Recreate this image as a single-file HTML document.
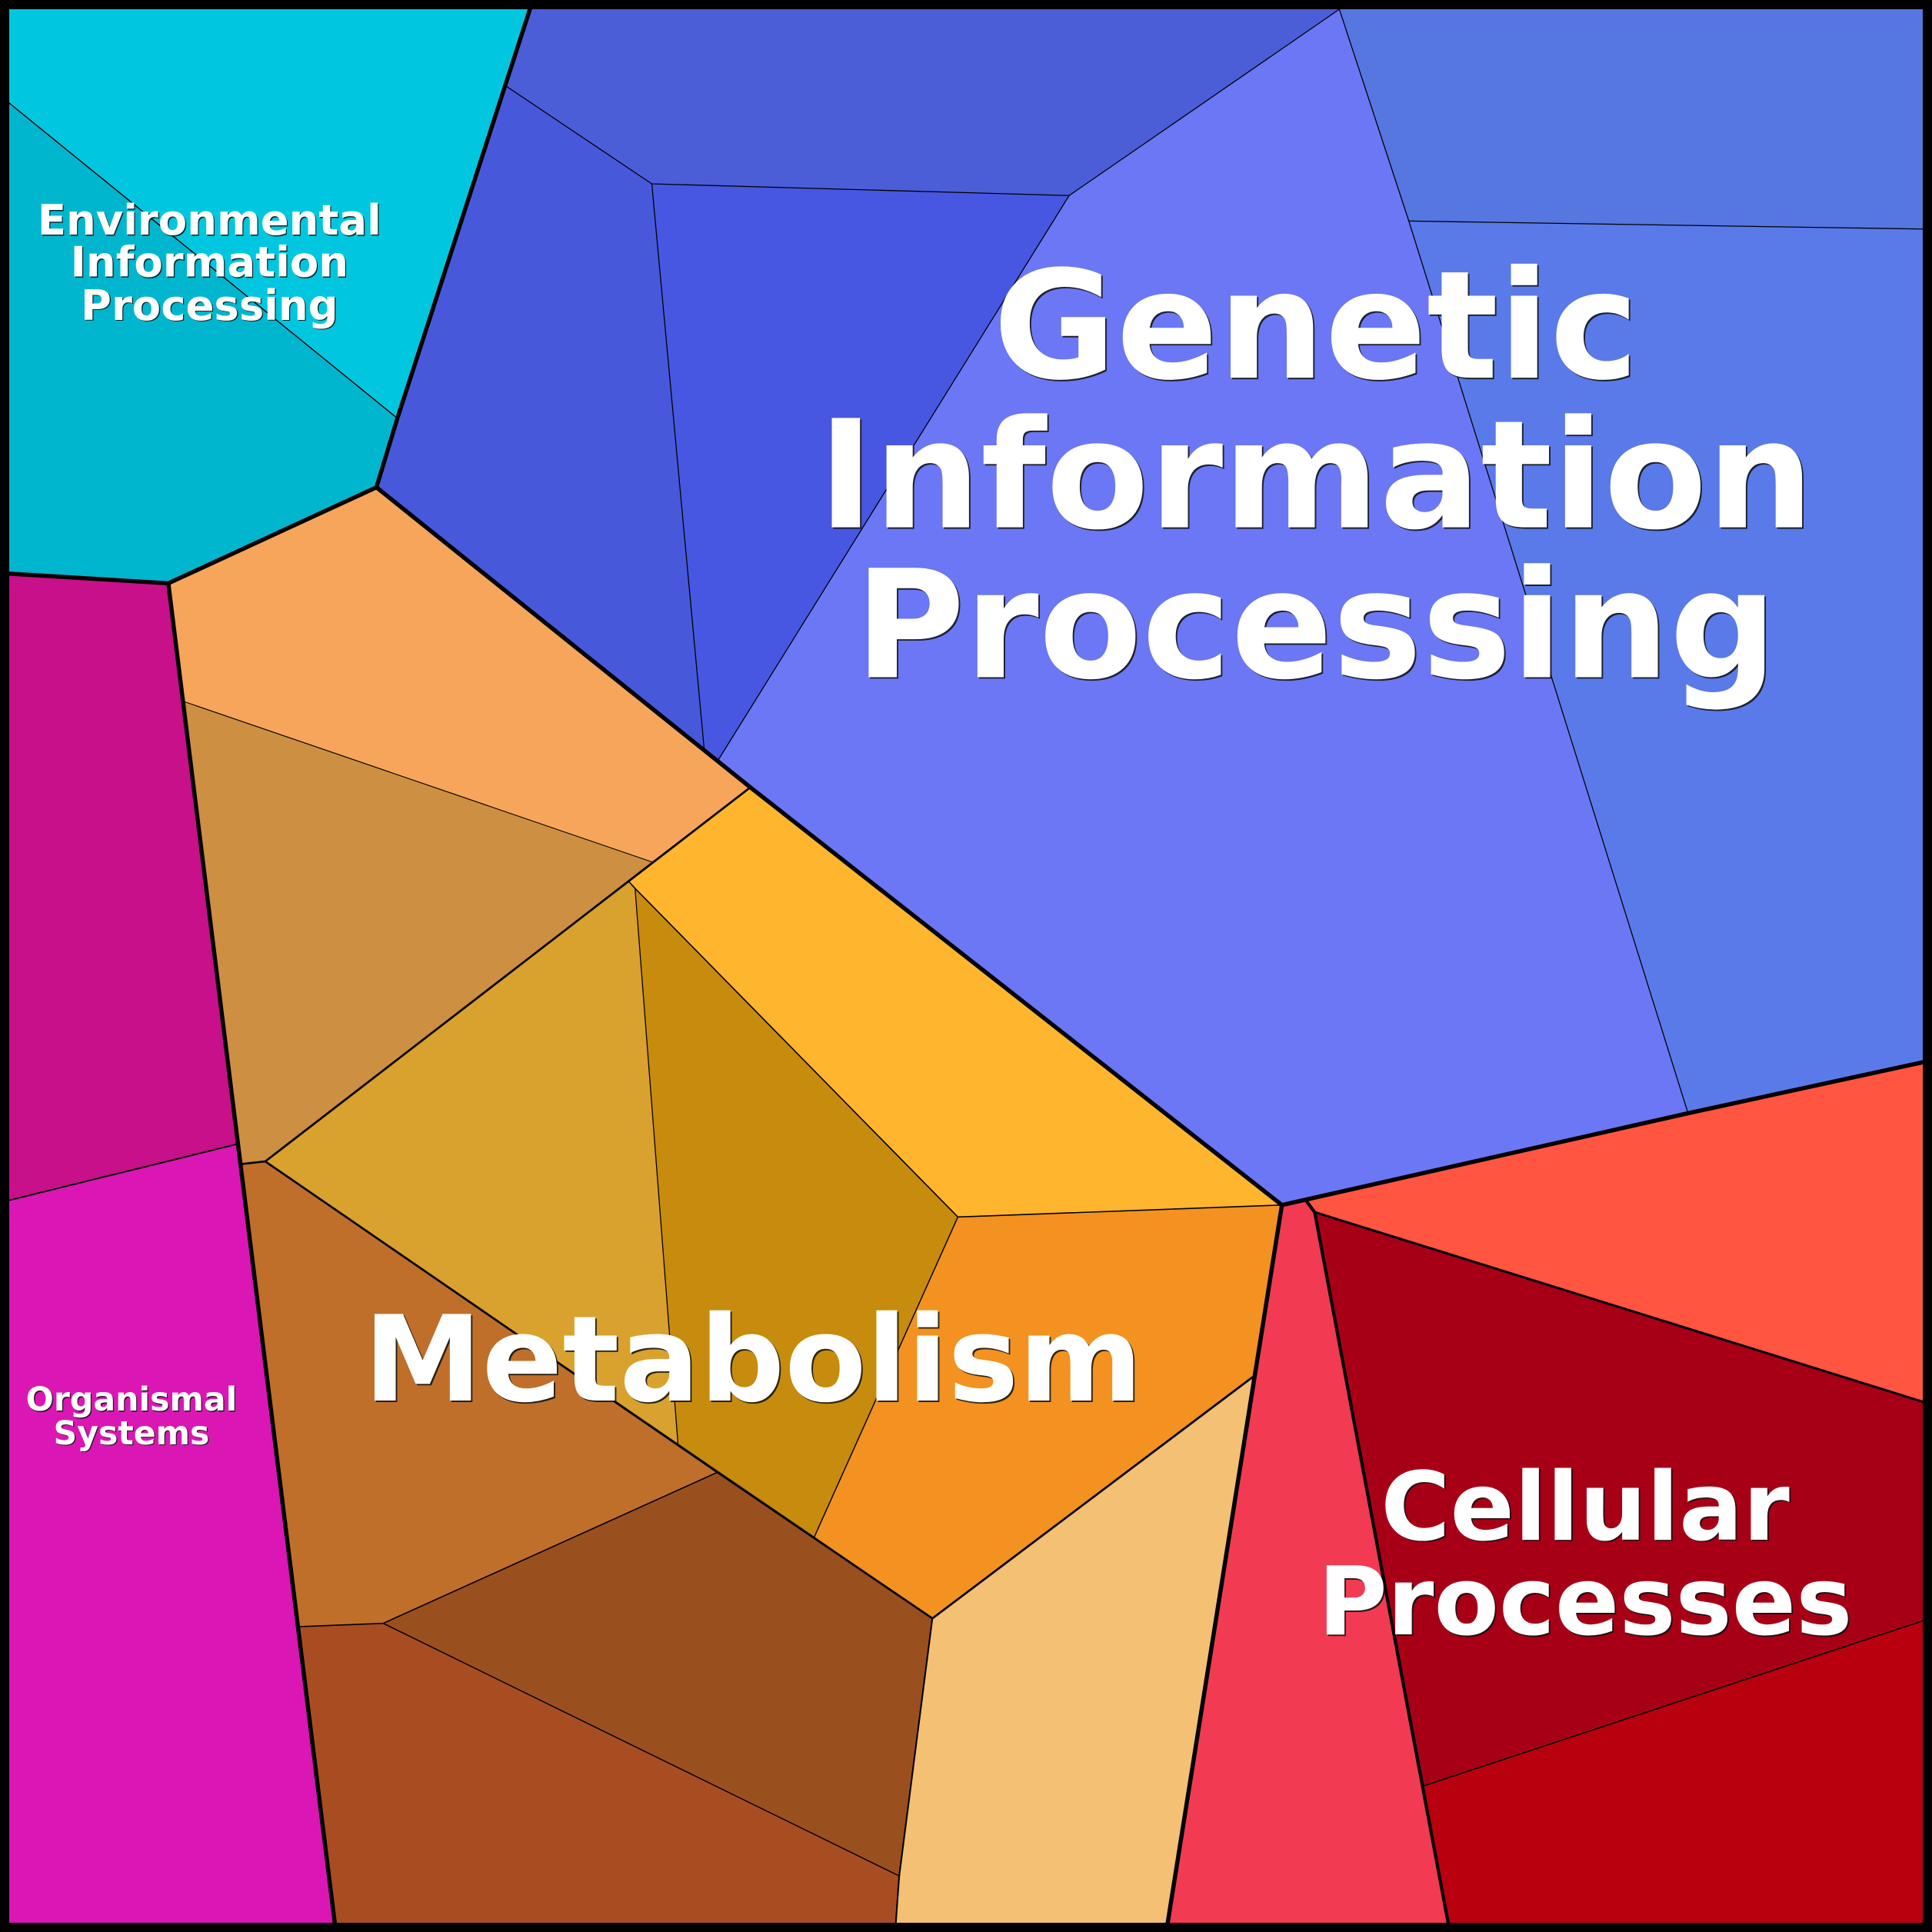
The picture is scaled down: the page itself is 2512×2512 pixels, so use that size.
<!DOCTYPE html>
<html>
<head>
<meta charset="utf-8">
<style>
html,body{margin:0;padding:0;background:#fff;}
svg{display:block;}
text{font-family:"DejaVu Sans","Liberation Sans",sans-serif;font-weight:bold;text-anchor:middle;}
.sh{fill:#111;opacity:0.85;}
.fg{fill:#fff;}
</style>
</head>
<body>
<svg xmlns="http://www.w3.org/2000/svg" width="2512" height="2512" viewBox="0 0 1568 1568">
<rect x="0" y="0" width="1568" height="1568" fill="#333"/>
<!-- Environmental Information Processing -->
<polygon fill="#00C7DF" points="0,0 432.5,0 322.5,339.5 0,77.6"/>
<polygon fill="#00B6CE" points="0,77.6 322.5,339.5 305.5,395.5 136.6,473.4 0,465.1"/>

<!-- Genetic Information Processing -->
<polygon fill="#4B5ED8" points="432.5,0 1087,0 1087,7.5 867.7,158.7 529,149.2 410.5,69.7"/>
<polygon fill="#4759DA" points="410.5,69.7 529,149.2 571.5,608 305.5,395.5 322.5,339.5"/>
<polygon fill="#4757E1" points="529,149.2 867.7,158.7 582.5,617.5 571.5,608"/>
<polygon fill="#6B77F4" points="1087,7.5 1143.4,179.4 1370,903.5 1040.4,978 609,639 582.5,617.5 867.7,158.7"/>
<polygon fill="#5676E0" points="1087,0 1568,0 1568,186 1143.4,179.4 1087,7.5"/>
<polygon fill="#5A7AE9" points="1143.4,179.4 1568,186 1568,860.5 1370,903.5"/>

<!-- Metabolism -->
<polygon fill="#F7A55A" points="136.6,473.4 305.5,395.5 609,639 529,699.5 148.5,569.1"/>
<polygon fill="#CD8F42" points="148.5,569.1 529,699.5 215.3,942.6 195.2,944.8"/>
<polygon fill="#D9A12E" points="510.4,715.5 515.4,721 550.2,1171.4 215.3,942.6"/>
<polygon fill="#C78B0D" points="515.4,721 777.4,987.7 661,1247.1 550.2,1171.4"/>
<polygon fill="#FFB62E" points="609,639 1040.4,978 777.4,987.7 515.4,721 510.4,715.5"/>
<polygon fill="#F39220" points="777.4,987.7 1040.4,978 1016.4,1117.8 756.7,1313.5 661,1247.1"/>
<polygon fill="#F3C074" points="1016.4,1117.8 946.5,1568 726.5,1568 729.8,1522.5 756.7,1313.5"/>
<polygon fill="#BF6F2A" points="195.2,944.8 215.3,942.6 582.3,1194.9 311,1317.5 241.8,1320.2"/>
<polygon fill="#9A4F1F" points="582.3,1194.9 661,1247.1 756.7,1313.5 729.8,1522.5 311,1317.5"/>
<polygon fill="#A84D22" points="241.8,1320.2 311,1317.5 729.8,1522.5 726.5,1568 272.6,1568"/>

<!-- Organismal Systems -->
<polygon fill="#C8108A" points="0,465.1 136.6,473.4 191.5,928.8 0,976"/>
<polygon fill="#DA17B4" points="0,976 191.5,928.8 272.6,1568 0,1568"/>

<!-- Cellular Processes -->
<polygon fill="#F33A53" points="1040.4,978 1060,974.5 1067,983.8 1176.7,1568 946.5,1568"/>
<polygon fill="#FF5541" points="1060,974.5 1568,860.5 1568,1140 1067,983.8"/>
<polygon fill="#A70016" points="1067,983.8 1568,1140 1568,1313 1156,1449.2"/>
<polygon fill="#B8000F" points="1156,1449.2 1568,1313 1568,1568 1176.7,1568"/>

<!-- lines -->
<g fill="none" stroke="#000" stroke-linejoin="round" stroke-linecap="round">
  <polyline stroke-width="0.9" points="0,77.6 322.5,339.5"/>
  <polyline stroke-width="0.8" points="410.5,69.7 529,149.2 867.7,158.7 1087,7.5"/>
  <polyline stroke-width="0.8" points="529,149.2 571.5,608"/>
  <polyline stroke-width="0.8" points="867.7,158.7 582.5,617.5"/>
  <polyline stroke-width="0.8" points="1087,7.5 1143.4,179.4 1370,903.5"/>
  <polyline stroke-width="0.8" points="1143.4,179.4 1568,186"/>

  <polyline stroke-width="0.7" points="148.5,569.1 529,699.5"/>
  <polyline stroke-width="1.0" points="510.4,715.5 515.4,721 777.4,987.7 1040.4,978"/>
  <polyline stroke-width="0.8" points="515.4,721 550.2,1171.4"/>
  <polyline stroke-width="0.9" points="777.4,987.7 661,1247.1"/>
  <polyline stroke-width="1.0" points="582.3,1194.9 311,1317.5 241.8,1320.2"/>
  <polyline stroke-width="0.9" points="311,1317.5 729.8,1522.5"/>
  <polyline stroke-width="1.7" points="609,639 215.3,942.6 195.2,944.8"/>
  <polyline stroke-width="1.7" points="215.3,942.6 582.3,1194.9 756.7,1313.5 1016.4,1117.8"/>
  <polyline stroke-width="1.3" points="756.7,1313.5 729.8,1522.5 726.5,1568"/>

  <polyline stroke-width="1.2" points="0,976 191.5,928.8"/>

  <polyline stroke-width="1.9" points="1067,983.8 1568,1140"/>
  <polyline stroke-width="1.0" points="1156,1449.2 1568,1313"/>
  <polyline stroke-width="2.6" points="1060,974.5 1067,983.8 1176.7,1568"/>

  <!-- category boundaries -->
  <polyline stroke-width="3.4" points="432.5,0 322.5,339.5 305.5,395.5 136.6,473.4 0,465.1"/>
  <polyline stroke-width="3.4" points="305.5,395.5 609,639 1040.4,978 1370,903.5 1568,860.5"/>
  <polyline stroke-width="3.4" points="136.6,473.4 272.6,1568"/>
  <polyline stroke-width="3.4" points="1040.4,978 946.5,1568"/>

  <!-- outer frame -->
  <rect x="3.75" y="3.75" width="1560.5" height="1560.5" stroke-width="7.5" stroke-linejoin="miter"/>
</g>

<!-- Labels -->
<g font-size="34">
  <text class="sh" x="170.8" y="191.3">Environmental</text>
  <text class="sh" x="170.8" y="225.3">Information</text>
  <text class="sh" x="170.8" y="260.4">Processing</text>
  <text class="fg" x="170" y="190.5">Environmental</text>
  <text class="fg" x="170" y="224.5">Information</text>
  <text class="fg" x="170" y="259.6">Processing</text>
</g>

<g font-size="121.8">
  <text class="sh" x="1069.2" y="307.8">Genetic</text>
  <text class="sh" x="1069.2" y="429.2">Information</text>
  <text class="sh" x="1069.2" y="550.8">Processing</text>
  <text class="fg" x="1068" y="306.6">Genetic</text>
  <text class="fg" x="1068" y="428">Information</text>
  <text class="fg" x="1068" y="549.6">Processing</text>
</g>

<g font-size="96.5">
  <text class="sh" x="612.4" y="1137.9">Metabolism</text>
  <text class="fg" x="611.2" y="1136.7">Metabolism</text>
</g>

<g font-size="76.8">
  <text class="sh" x="1287.7" y="1250.6">Cellular</text>
  <text class="sh" x="1287.7" y="1327.6">Processes</text>
  <text class="fg" x="1286.5" y="1249.5">Cellular</text>
  <text class="fg" x="1286.5" y="1326.5">Processes</text>
</g>

<g font-size="26.6">
  <text class="sh" x="107.5" y="1145.6">Organismal</text>
  <text class="sh" x="107.5" y="1172.9">Systems</text>
  <text class="fg" x="106.7" y="1144.8">Organismal</text>
  <text class="fg" x="106.7" y="1172.1">Systems</text>
</g>
</svg>
</body>
</html>
